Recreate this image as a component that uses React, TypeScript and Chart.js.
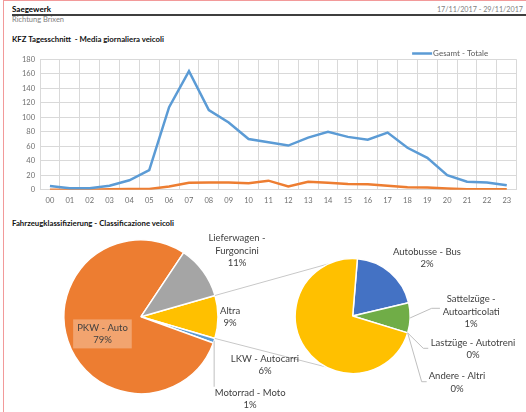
import { useEffect, useRef } from "react"
import { Chart, registerables } from "chart.js"

Chart.register(...registerables)

const FONT = "Lato, 'Open Sans', sans-serif"

// hourly daily average (KFZ Tagesschnitt)
const hours = ["00", "01", "02", "03", "04", "05", "06", "07", "08", "09", "10", "11", "12", "13", "14", "15", "16", "17", "18", "19", "20", "21", "22", "23"]
const totalPerHour = [5, 2, 2, 5.5, 13, 27, 114, 164, 110, 93, 70, 65.5, 61, 72, 80, 73, 69, 79, 58, 44, 20, 11, 10, 6]
const heavyPerHour = [0, 0, 0, 0.5, 1, 1, 4.5, 9.5, 10, 10, 9, 12.5, 4.5, 11, 9.5, 8, 7.5, 5.5, 3.5, 3, 1.5, 0.5, 0.5, 0.5]
const yMax = 180
const yStep = 20

// vehicle classes, main pie (clockwise from the "Altra" slice)
const mainNames = ["Altra", "Motorrad - Moto", "PKW - Auto", "Lieferwagen - Furgoncini"]
const mainShares = [9.0, 1.0, 78.8, 11.2]
const mainColors = ["#FFC000", "#5B9BD5", "#ED7D31", "#A5A5A5"]

// breakdown of "Altra" (secondary pie)
const subNames = ["Autobusse - Bus", "Sattelzüge - Autoarticolati", "Lastzüge - Autotreni", "Andere - Altri", "LKW - Autocarri"]
const subShares = [1.8, 0.76, 0, 0, 6.44]
const subColors = ["#4472C4", "#70AD47", "#264478", "#9E480E", "#FFC000"]

const shareTotal = mainShares.reduce((a, b) => a + b, 0)

type LabelSpec = {
  wrap?: boolean
  dist?: number
  dx: number
  dy: number
  leader?: [number, number][]
  box?: boolean
}

const mainLabelSpecs: LabelSpec[] = [
  { dist: 1.15, dx: 0.5, dy: 0 },
  { dx: 36, dy: 58, leader: [[0, 46]] },
  { dist: 0.55, dx: 1.7, dy: 4, box: true },
  { wrap: true, dist: 1.45, dx: 5.8, dy: 0 },
]

const subLabelSpecs: LabelSpec[] = [
  { dist: 1.5, dx: 18, dy: 7.4 },
  { wrap: true, dx: 61, dy: -6.4, leader: [[21.5, -9.6], [29.8, -9.6]] },
  { dx: 65.3, dy: 16, leader: [[15.6, 15.4], [20.6, 15.4]] },
  { dx: 49.3, dy: 49.6, leader: [[14, 48.8], [19, 48.8]] },
  { dist: 1.5, dx: -16.3, dy: 0.6 },
]

const lineLegend = {
  id: "lineLegend",
  afterDraw(chart: Chart) {
    const { ctx, chartArea } = chart
    const ds: any = chart.data.datasets[0]
    ctx.save()
    ctx.font = `8px ${FONT}`
    const tw = ctx.measureText(ds.label).width
    const y = chartArea.top - 6
    const x0 = chartArea.right - 28.5 - tw - 21
    ctx.strokeStyle = ds.borderColor
    ctx.lineWidth = 2.5
    ctx.beginPath()
    ctx.moveTo(x0, y)
    ctx.lineTo(x0 + 20, y)
    ctx.stroke()
    ctx.fillStyle = "#595959"
    ctx.textBaseline = "middle"
    ctx.fillText(ds.label, x0 + 21, y)
    ctx.restore()
  },
}

function labelLines(name: string, value: number, wrap?: boolean) {
  const pct = `${Math.round((value / shareTotal) * 100)}%`
  const i = name.indexOf(" - ")
  if (wrap && i > 0) return [name.slice(0, i + 2), name.slice(i + 3), pct]
  return [name, pct]
}

const sliceLabels = {
  id: "sliceLabels",
  afterDatasetsDraw(chart: Chart, _args: any, opts: any) {
    const specs: LabelSpec[] = opts.specs
    const ctx = chart.ctx
    const names = chart.data.labels as string[]
    const values = chart.data.datasets[0].data as number[]
    const lh = 12.5
    ctx.save()
    ctx.font = `9.5px ${FONT}`
    ctx.textAlign = "center"
    ctx.textBaseline = "middle"
    chart.getDatasetMeta(0).data.forEach((el: any, i) => {
      const s = specs[i]
      const { x, y, startAngle, endAngle, outerRadius } = el.getProps(["x", "y", "startAngle", "endAngle", "outerRadius"], true)
      const mid = (startAngle + endAngle) / 2
      let cx: number
      let cy: number
      if (s.leader) {
        const ex = x + outerRadius * Math.cos(mid)
        const ey = y + outerRadius * Math.sin(mid)
        ctx.strokeStyle = "#BFBFBF"
        ctx.lineWidth = 1
        ctx.beginPath()
        ctx.moveTo(ex, ey)
        s.leader.forEach(([lx, ly]) => ctx.lineTo(ex + lx, ey + ly))
        ctx.stroke()
        cx = ex + s.dx
        cy = ey + s.dy
      } else {
        const d = (s.dist ?? 1) * outerRadius
        cx = x + d * Math.cos(mid) + s.dx
        cy = y + d * Math.sin(mid) + s.dy
      }
      const lines = labelLines(names[i], values[i], s.wrap)
      if (s.box) {
        const w = Math.max(...lines.map((t) => ctx.measureText(t).width)) + 8
        const h = lines.length * lh + 4
        ctx.fillStyle = "rgba(255,255,255,0.3)"
        ctx.fillRect(cx - w / 2, cy - h / 2, w, h)
      }
      ctx.fillStyle = "#404040"
      lines.forEach((t, k) => ctx.fillText(t, cx, cy + (k - (lines.length - 1) / 2) * lh))
    })
    ctx.restore()
  },
}

// angles on the secondary pie where the connector lines touch it
const connectorAngles = [(-115 * Math.PI) / 180, (117.5 * Math.PI) / 180]

function makeConnectors(source: Chart, sourceIndex: number) {
  return {
    id: "pieConnectors",
    beforeDatasetsDraw(chart: Chart) {
      const src: any = source.getDatasetMeta(0).data[sourceIndex]
      const dst: any = chart.getDatasetMeta(0).data[0]
      if (!src || !dst) return
      const a = src.getProps(["x", "y", "startAngle", "endAngle", "outerRadius"], true)
      const b = dst.getProps(["x", "y", "outerRadius"], true)
      const ctx = chart.ctx
      ctx.save()
      ctx.strokeStyle = "#C8C8C8"
      ctx.lineWidth = 1
      ;[a.startAngle, a.endAngle].forEach((ang: number, k: number) => {
        ctx.beginPath()
        ctx.moveTo(a.x + a.outerRadius * Math.cos(ang), a.y + a.outerRadius * Math.sin(ang))
        ctx.lineTo(b.x + b.outerRadius * Math.cos(connectorAngles[k]), b.y + b.outerRadius * Math.sin(connectorAngles[k]))
        ctx.stroke()
      })
      ctx.restore()
    },
  }
}

const pieOptions = (rotation: number, padding: any, specs: LabelSpec[]): any => ({
  responsive: false,
  animation: false,
  rotation,
  layout: { padding },
  plugins: {
    legend: { display: false },
    tooltip: { enabled: false },
    sliceLabels: { specs },
  },
})

const text = (style: React.CSSProperties): React.CSSProperties => ({
  position: "absolute",
  fontFamily: FONT,
  whiteSpace: "pre",
  lineHeight: "10px",
  ...style,
})

export default function App() {
  const lineRef = useRef<HTMLCanvasElement>(null)
  const mainRef = useRef<HTMLCanvasElement>(null)
  const subRef = useRef<HTMLCanvasElement>(null)

  useEffect(() => {
    if (!lineRef.current || !mainRef.current || !subRef.current) return

    const tickFont = { family: FONT, size: 7.5 }
    const lineChart = new Chart(lineRef.current, {
      type: "line",
      data: {
        labels: hours,
        datasets: [
          {
            label: "Gesamt - Totale",
            data: totalPerHour,
            borderColor: "#5B9BD5",
            backgroundColor: "#5B9BD5",
            borderWidth: 2.5,
            pointRadius: 0,
            tension: 0,
          },
          {
            label: "Schwerverkehr",
            data: heavyPerHour,
            borderColor: "#ED7D31",
            backgroundColor: "#ED7D31",
            borderWidth: 2.5,
            pointRadius: 0,
            tension: 0,
          },
        ],
      },
      options: {
        responsive: false,
        animation: false,
        layout: { padding: { top: 9.5, bottom: 6.3, left: 0, right: 9.3 } },
        plugins: { legend: { display: false }, tooltip: { enabled: false } },
        scales: {
          x: {
            offset: true,
            grid: { offset: true, color: "#D9D9D9", drawTicks: false },
            border: { color: "#D9D9D9" },
            ticks: { font: tickFont, color: "#6F6F6F", padding: 6, maxRotation: 0, autoSkip: false },
            afterFit: (s: any) => {
              s.height = 14
            },
          },
          y: {
            min: 0,
            max: yMax,
            grid: { color: "#D9D9D9", drawTicks: false },
            border: { display: false },
            ticks: { stepSize: yStep, font: tickFont, color: "#6F6F6F", padding: 5 },
            afterFit: (s: any) => {
              s.width = 40
            },
          },
        },
      },
      plugins: [lineLegend],
    })

    const mainPie = new Chart(mainRef.current, {
      type: "pie",
      data: {
        labels: mainNames,
        datasets: [
          {
            data: mainShares,
            backgroundColor: mainColors,
            borderColor: "#FFFFFF",
            borderWidth: 1.5,
            hoverBorderWidth: 1.5,
            hoverOffset: 0,
            offset: 0,
          },
        ],
      },
      options: pieOptions(74, { left: 63.25, right: 307.25, top: 33.95, bottom: 17.55 }, mainLabelSpecs),
      plugins: [sliceLabels],
    })

    const subPie = new Chart(subRef.current, {
      type: "pie",
      data: {
        labels: subNames,
        datasets: [
          {
            data: subShares,
            backgroundColor: subColors,
            borderColor: "#FFFFFF",
            borderWidth: 1.5,
            hoverBorderWidth: 1.5,
            hoverOffset: 0,
            offset: 0,
          },
        ],
      },
      options: pieOptions(4.7, { left: 294.45, right: 115.05, top: 52.75, bottom: 37.75 }, subLabelSpecs),
      plugins: [makeConnectors(mainPie, 0), sliceLabels],
    })

    return () => {
      lineChart.destroy()
      mainPie.destroy()
      subPie.destroy()
    }
  }, [])

  return (
    <div style={{ position: "absolute", left: 0, top: 0, width: 526, height: 412, background: "#fff", overflow: "hidden" }}>
      <div style={{ position: "absolute", left: 3, top: 0, width: 523, height: 1, background: "#F29A9A" }} />
      <div style={{ position: "absolute", left: 3, top: 0, width: 1, height: 412, background: "#F29A9A" }} />
      <div style={text({ left: 12, top: 4, fontSize: 8, fontWeight: 700, color: "#000" })}>Saegewerk</div>
      <div style={text({ right: 3, top: 4.5, fontSize: 7.2, color: "#7F7F7F" })}>17/11/2017 - 29/11/2017</div>
      <div style={{ position: "absolute", left: 12, top: 13.5, width: 514, height: 2, background: "#3F3F3F" }} />
      <div style={text({ left: 12, top: 15, fontSize: 7.5, color: "#7F7F7F" })}>Richtung Brixen</div>
      <div style={text({ left: 12, top: 34, fontSize: 7.8, fontWeight: 700, color: "#111" })}>KFZ Tagesschnitt  - Media giornaliera veicoli</div>
      <canvas ref={lineRef} width={526} height={160} style={{ position: "absolute", left: 0, top: 50 }} />
      <div style={text({ left: 12, top: 218, fontSize: 7.8, fontWeight: 700, color: "#111" })}>Fahrzeugklassifizierung - Classificazione veicoli</div>
      <canvas ref={mainRef} width={526} height={207} style={{ position: "absolute", left: 0, top: 205 }} />
      <canvas ref={subRef} width={526} height={207} style={{ position: "absolute", left: 0, top: 205 }} />
    </div>
  )
}
